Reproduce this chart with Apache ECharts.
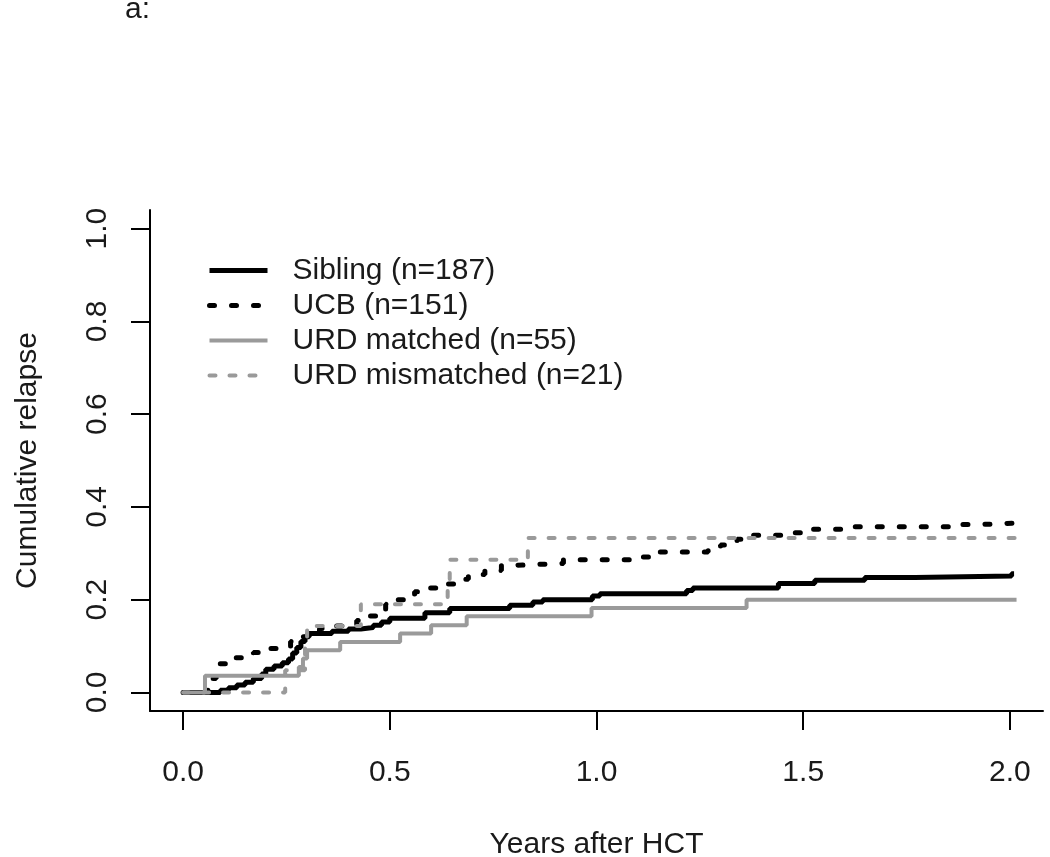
<!DOCTYPE html>
<html><head><meta charset="utf-8">
<script src="https://cdn.jsdelivr.net/npm/echarts@6/dist/echarts.min.js"></script>
<style>html,body{margin:0;padding:0;background:#fff}#c{width:1050px;height:857px}</style>
</head><body><div id="c"></div>
<script>
// Step-curve data: [years after HCT, cumulative relapse]
const sibling = [[0,0],[0.09,0.005],[0.11,0.01],[0.13,0.016],[0.15,0.022],[0.17,0.03],[0.19,0.04],[0.20,0.05],[0.22,0.057],[0.24,0.064],[0.255,0.072],[0.265,0.085],[0.275,0.097],[0.285,0.11],[0.295,0.12],[0.305,0.127],[0.36,0.132],[0.40,0.137],[0.43,0.14],[0.46,0.145],[0.48,0.152],[0.50,0.16],[0.585,0.172],[0.645,0.181],[0.79,0.188],[0.846,0.195],[0.87,0.2],[0.99,0.208],[1.008,0.213],[1.218,0.22],[1.233,0.225],[1.44,0.235],[1.528,0.242],[1.649,0.248],[1.77,0.251],[2.004,0.256],[2.01,0.256]];
const ucb = [[0,0],[0.06,0.03],[0.08,0.062],[0.12,0.075],[0.15,0.08],[0.17,0.086],[0.2,0.095],[0.23,0.1],[0.26,0.11],[0.29,0.12],[0.30,0.127],[0.33,0.138],[0.36,0.143],[0.42,0.155],[0.45,0.165],[0.47,0.175],[0.49,0.19],[0.51,0.2],[0.54,0.208],[0.56,0.217],[0.59,0.225],[0.63,0.234],[0.66,0.244],[0.69,0.254],[0.73,0.263],[0.77,0.274],[0.80,0.278],[0.92,0.286],[1.10,0.292],[1.13,0.303],[1.27,0.312],[1.30,0.318],[1.34,0.33],[1.36,0.339],[1.46,0.344],[1.50,0.352],[1.60,0.357],[1.88,0.362],[1.93,0.365],[2.01,0.365]];
const urdMatched = [[0,0],[0.053,0.036],[0.28,0.055],[0.29,0.073],[0.30,0.091],[0.38,0.109],[0.525,0.127],[0.60,0.145],[0.686,0.164],[0.988,0.182],[1.363,0.2],[2.016,0.2]];
const urdMismatched = [[0,0],[0.247,0.048],[0.295,0.095],[0.30,0.143],[0.43,0.19],[0.64,0.238],[0.645,0.286],[0.834,0.333],[2.016,0.333]];
const seriesNames = ['Sibling (n=187)','UCB (n=151)','URD matched (n=55)','URD mismatched (n=21)'];
const xTicks = [0,0.5,1,1.5,2];
const yTicks = [0,0.2,0.4,0.6,0.8,1];

const FONT = 'Liberation Sans, Arial, sans-serif';
const TXT = '#1a1a1a';
const FS = 30;
const chart = echarts.init(document.getElementById('c'), null, {renderer:'canvas'});
const styles = [
  {color:'#000', width:5, type:'solid'},
  {color:'#000', width:5, type:[5,17]},
  {color:'#9a9a9a', width:4, type:'solid'},
  {color:'#9a9a9a', width:4, type:[6,14]}
];
const dataSets = [sibling, ucb, urdMatched, urdMismatched];
chart.setOption({
  animation:false,
  title:{text:'a:', left:120, top:-10, textStyle:{fontFamily:FONT, fontSize:FS, fontWeight:'normal', color:TXT}},
  grid:{left:150, right:7, top:210, bottom:146, containLabel:false, outerBoundsMode:'none'},
  legend:{orient:'vertical', left:207, top:255, padding:0, itemWidth:58, itemHeight:20, itemGap:4,
    selectedMode:false,
    itemStyle:{opacity:0},
    data:seriesNames.map((n,i)=>({name:n, lineStyle:{color:styles[i].color, width:styles[i].width, type:styles[i].type, cap:styles[i].type==='solid'?'butt':'round'}})),
    textStyle:{fontFamily:FONT, fontSize:FS, color:TXT, lineHeight:31, padding:[0,0,0,20]}},
  xAxis:{type:'value', min:-0.08, max:2.08,
    name:'Years after HCT', nameLocation:'middle', nameGap:119,
    nameTextStyle:{fontFamily:FONT, fontSize:FS, color:TXT},
    axisLine:{onZero:false, lineStyle:{color:'#000', width:2}},
    axisTick:{customValues:xTicks, length:19, lineStyle:{color:'#000', width:2}},
    axisLabel:{customValues:xTicks, margin:47, fontFamily:FONT, fontSize:FS, color:TXT, formatter:v=>v.toFixed(1)},
    splitLine:{show:false}},
  yAxis:{type:'value', min:-0.04, max:1.04,
    name:'Cumulative relapse', nameLocation:'middle', nameGap:107, nameRotate:90,
    nameTextStyle:{fontFamily:FONT, fontSize:FS, color:TXT},
    axisLine:{onZero:false, show:true, lineStyle:{color:'#000', width:2}},
    axisTick:{show:true, customValues:yTicks, length:19, lineStyle:{color:'#000', width:2}},
    axisLabel:{customValues:yTicks, rotate:90, margin:37, fontFamily:FONT, fontSize:FS, color:TXT, formatter:v=>v.toFixed(1)},
    splitLine:{show:false}},
  series:dataSets.map((d,i)=>({name:seriesNames[i], type:'line', data:d, step:'end', symbol:'none', silent:true,
    lineStyle:{color:styles[i].color, width:styles[i].width, type:styles[i].type, cap:styles[i].type==='solid'?'butt':'round'},
    itemStyle:{color:styles[i].color}}))
});
</script></body></html>
